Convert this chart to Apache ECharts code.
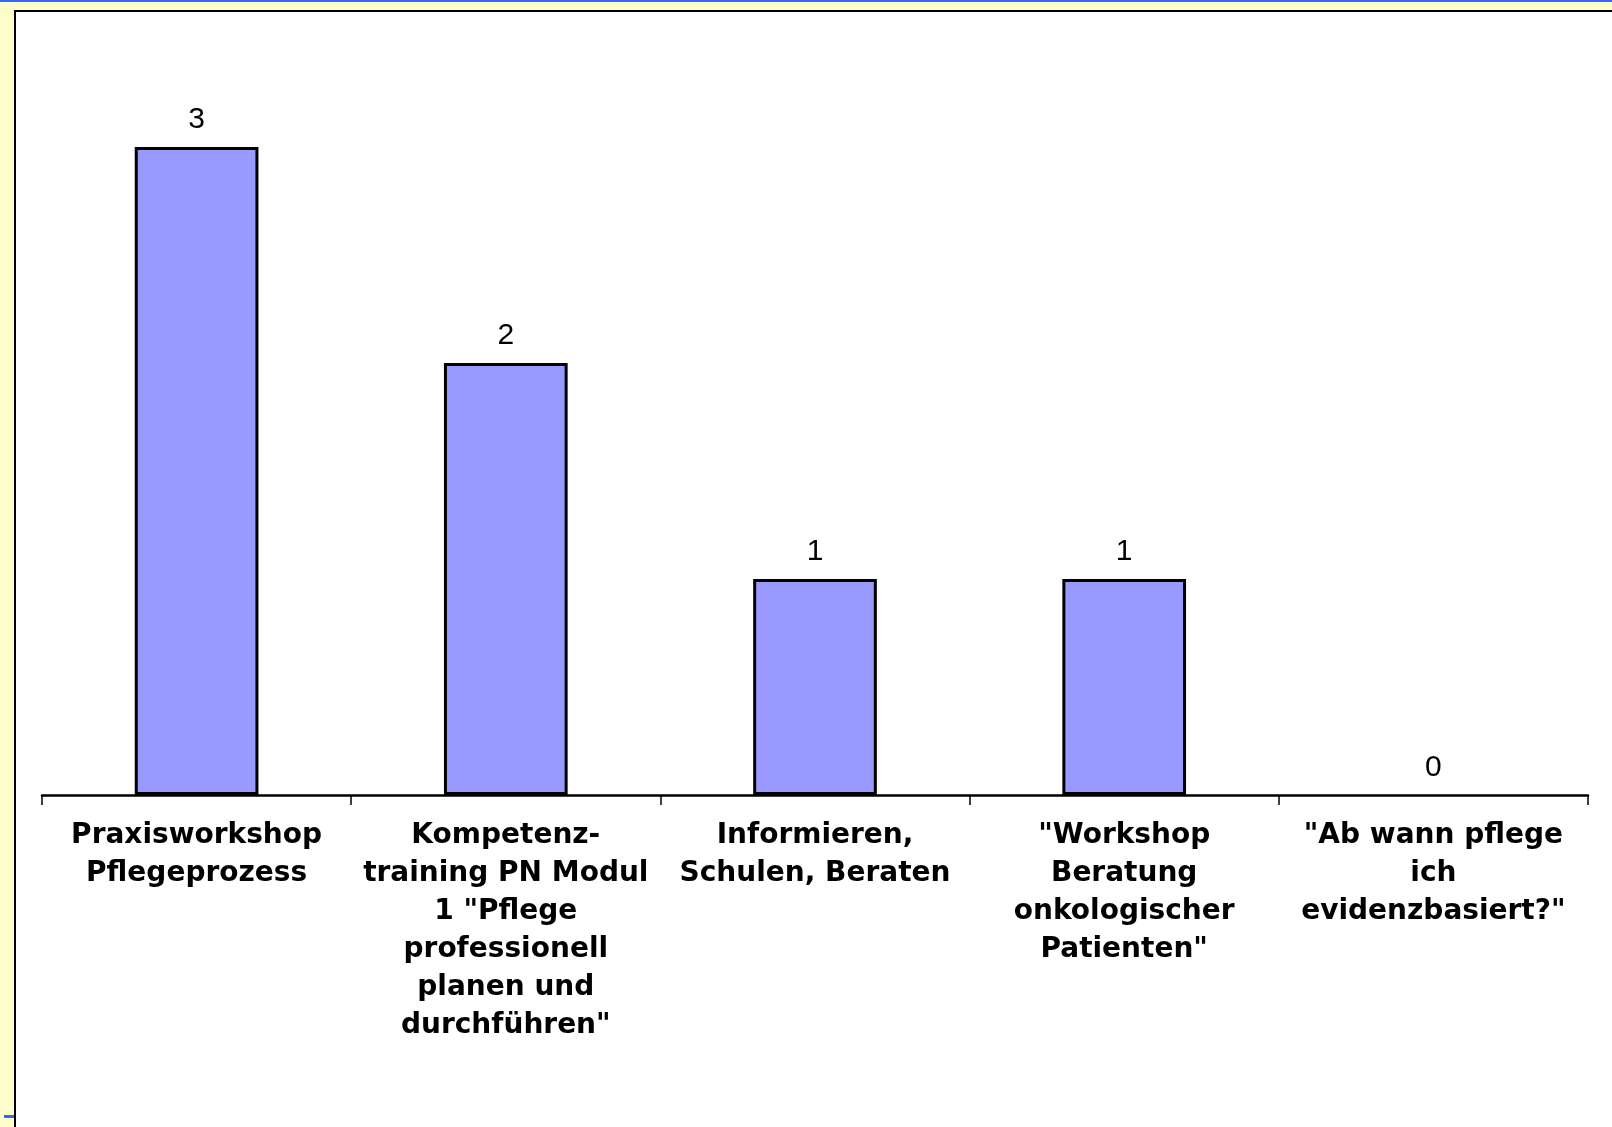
<!DOCTYPE html>
<html>
<head>
<meta charset="utf-8">
<script src="https://cdn.jsdelivr.net/npm/echarts@6/dist/echarts.min.js"></script>
<style>
html,body{margin:0;padding:0;background:#fff;}
#chart{width:1612px;height:1127px;}
</style>
</head>
<body>
<div id="chart"></div>
<script>
const categories = [
  'Praxisworkshop\nPflegeprozess',
  'Kompetenz-\ntraining PN Modul\n1 "Pflege\nprofessionell\nplanen und\ndurchführen"',
  'Informieren,\nSchulen, Beraten',
  '"Workshop\nBeratung\nonkologischer\nPatienten"',
  '"Ab wann pflege\nich\nevidenzbasiert?"'
];
const values = [3, 2, 1, 1, 0];

const chart = echarts.init(document.getElementById('chart'), null, {renderer: 'canvas'});
chart.setOption({
  backgroundColor: '#ffffff',
  animation: false,
  grid: {left: 42, right: 24, top: 147, bottom: 332, containLabel: false},
  xAxis: {
    type: 'category',
    data: categories,
    axisLine: {show: true, lineStyle: {color: '#000', width: 2.5}},
    axisTick: {show: true, length: 10, lineStyle: {color: '#000', width: 1.5}, alignWithLabel: false},
    axisLabel: {
      interval: 0,
      margin: 22,
      color: '#000',
      fontFamily: 'DejaVu Sans, Verdana, sans-serif',
      fontWeight: 'bold',
      fontSize: 28,
      lineHeight: 38,
      align: 'center'
    }
  },
  yAxis: {
    type: 'value',
    min: 0,
    max: 3,
    show: false,
    splitLine: {show: false}
  },
  series: [{
    type: 'bar',
    data: values.map(v => ({value: v, itemStyle: v === 0 ? {borderWidth: 0} : undefined})),
    barWidth: '40%',
    itemStyle: {color: '#9999FF', borderColor: '#000', borderWidth: 3},
    label: {
      show: true,
      position: 'top',
      distance: 12,
      color: '#000',
      fontFamily: 'Liberation Sans, Arial, sans-serif',
      fontSize: 30
    }
  }],
  graphic: [
    {type: 'rect', shape: {x: 0, y: 0, width: 1612, height: 10}, style: {fill: '#FFFFCC'}, silent: true},
    {type: 'rect', shape: {x: 0, y: 0, width: 14, height: 1127}, style: {fill: '#FFFFCC'}, silent: true},
    {type: 'rect', shape: {x: 0, y: 0, width: 1612, height: 2}, style: {fill: '#3366FF'}, silent: true},
    {type: 'rect', shape: {x: 14, y: 10, width: 1598, height: 2}, style: {fill: '#000'}, silent: true},
    {type: 'rect', shape: {x: 14, y: 10, width: 2, height: 1117}, style: {fill: '#000'}, silent: true},
    {type: 'rect', shape: {x: 4, y: 1115, width: 10, height: 3}, style: {fill: '#3366FF'}, silent: true}
  ]
});
</script>
</body>
</html>
